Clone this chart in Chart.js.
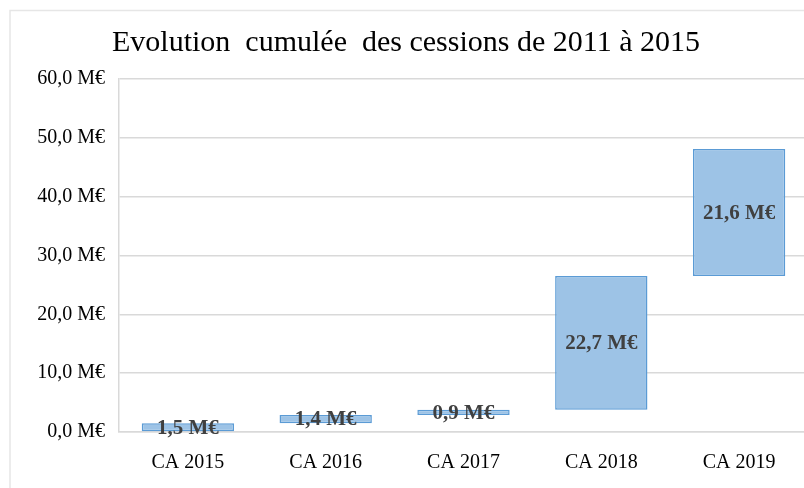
<!DOCTYPE html>
<html>
<head>
<meta charset="utf-8">
<script src="https://cdn.jsdelivr.net/npm/chart.js@4"></script>
<style>
html,body{margin:0;padding:0;background:#fff;overflow:hidden;}
#wrap{width:804px;height:488px;position:relative;overflow:hidden;}
</style>
</head>
<body>
<div id="wrap"><canvas id="c" width="808" height="488"></canvas></div>
<script>
const categories = ["CA 2015", "CA 2016", "CA 2017", "CA 2018", "CA 2019"];
const increments = [1.5, 1.4, 0.9, 22.7, 21.6];
const bases = [0, 1.5, 2.9, 3.8, 26.5];
const yTicks = [0, 10, 20, 30, 40, 50, 60];
const titleText = "Evolution  cumulée  des cessions de 2011 à 2015";

const fmt = v => v.toFixed(1).replace('.', ',') + ' M€';
const floating = categories.map((c, i) => [bases[i], +(bases[i] + increments[i]).toFixed(1)]);

const frame = {
  id: 'frame',
  beforeDraw(chart) {
    const ctx = chart.ctx;
    ctx.save();
    ctx.fillStyle = '#fff';
    ctx.fillRect(0, 0, chart.width, chart.height);
    ctx.strokeStyle = '#e6e6e6';
    ctx.lineWidth = 1.5;
    ctx.strokeRect(10, 10.5, chart.width + 20, chart.height + 20);
    ctx.fillStyle = '#000';
    ctx.font = '30px "Liberation Serif"';
    ctx.textAlign = 'center';
    ctx.textBaseline = 'alphabetic';
    ctx.fillText(titleText, 406, 51);
    ctx.restore();
  }
};

const labels = {
  id: 'labels',
  afterDatasetsDraw(chart) {
    const ctx = chart.ctx;
    const meta = chart.getDatasetMeta(0);
    ctx.save();
    ctx.fillStyle = '#404040';
    ctx.font = 'bold 21px "Liberation Serif"';
    ctx.textAlign = 'center';
    ctx.textBaseline = 'middle';
    meta.data.forEach((bar, i) => {
      const p = bar.getProps(['x', 'y', 'base'], true);
      ctx.fillText(fmt(increments[i]), p.x, (p.y + p.base) / 2 + 1);
    });
    ctx.restore();
  }
};

new Chart(document.getElementById('c'), {
  type: 'bar',
  data: {
    labels: categories,
    datasets: [{
      data: floating,
      backgroundColor: '#9dc3e6',
      borderColor: '#5b9bd5',
      borderWidth: 1.5,
      borderSkipped: false,
      barPercentage: 0.67,
      categoryPercentage: 1
    }]
  },
  options: {
    responsive: false,
    animation: false,
    devicePixelRatio: 1,
    layout: { padding: { left: 10, top: 79, right: 0, bottom: 0 } },
    plugins: { legend: { display: false }, title: { display: false }, tooltip: { enabled: false } },
    scales: {
      x: {
        grid: { display: false, drawTicks: false },
        border: { display: true, color: '#d9d9d9', width: 1.5 },
        ticks: { color: '#000', font: { family: 'Liberation Serif', size: 20 }, padding: 19, maxRotation: 0 },
        afterFit: s => { s.height = 56; }
      },
      y: {
        min: 0, max: 60,
        afterBuildTicks: s => { s.ticks = yTicks.map(v => ({ value: v })); },
        grid: { color: '#d9d9d9', lineWidth: 1.5, drawTicks: false },
        border: { display: true, color: '#d9d9d9', width: 1.5 },
        ticks: { color: '#000', font: { family: 'Liberation Serif', size: 20 }, padding: 14, callback: v => fmt(v) },
        afterFit: s => { s.width = 109; }
      }
    }
  },
  plugins: [frame, labels]
});
</script>
</body>
</html>
